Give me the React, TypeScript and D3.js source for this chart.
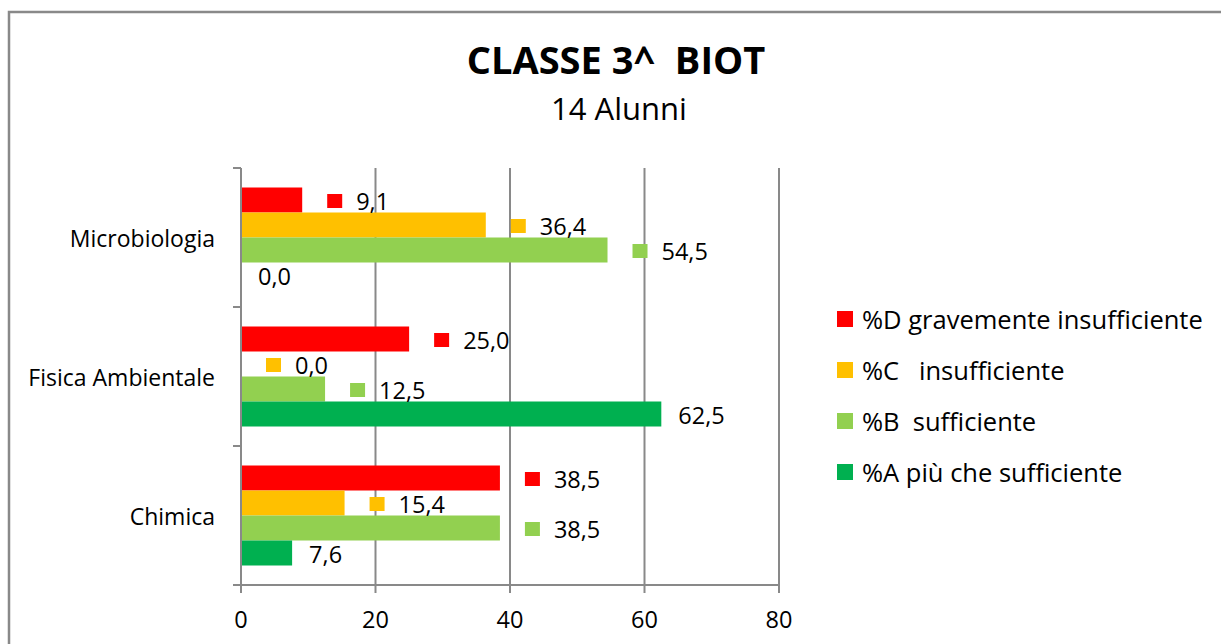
import React from "react";
import * as d3 from "d3";

const categories = ["Microbiologia", "Fisica Ambientale", "Chimica"];
const seriesKeys = ["D", "C", "B", "A"];
const seriesNames = [
  "%D gravemente insufficiente",
  "%C   insufficiente",
  "%B  sufficiente",
  "%A più che sufficiente",
];
const seriesColors = ["#FF0000", "#FFC000", "#92D050", "#00B050"];

// values per category, same order as seriesKeys
const valuesD = [9.1, 25.0, 38.5];
const valuesC = [36.4, 0.0, 15.4];
const valuesB = [54.5, 12.5, 38.5];
const valuesA = [0.0, 62.5, 7.6];
const xTicks = [0, 20, 40, 60, 80];

const W = 1221;
const H = 644;
const font = "'Open Sans', sans-serif";
const gray = "#898989";

const App: React.FC = () => {
  const allValues = [valuesD, valuesC, valuesB, valuesA];

  //scales
  const x = d3.scaleLinear().domain([0, 80]).range([241, 779]);
  const y = d3.scaleBand().domain(categories).range([168, 585]);
  const inner = d3
    .scaleBand()
    .domain(seriesKeys)
    .range([0, y.bandwidth()])
    .paddingOuter(0.78);

  const fmt = (v: number) => v.toFixed(1).replace(".", ",");
  const [y0, y1] = y.range();

  return (
    <svg
      width={W}
      height={H}
      style={{ position: "absolute", left: 0, top: 0, display: "block" }}
      fontFamily={font}
    >
      <rect x={0} y={0} width={W} height={H} fill="#fff" />
      <rect x={9} y={12} width={1400} height={1000} fill="none" stroke={gray} strokeWidth={2.5} />

      <text x={616} y={74} textAnchor="middle" fontSize={38} fontWeight="bold" xmlSpace="preserve">
        CLASSE 3^  BIOT
      </text>
      <text x={619} y={120} textAnchor="middle" fontSize={31}>
        14 Alunni
      </text>

      {/* gridlines */}
      {xTicks.slice(1).map((t) => (
        <line key={t} x1={x(t)} x2={x(t)} y1={y0} y2={y1} stroke={gray} strokeWidth={2} />
      ))}

      {/* bars */}
      {categories.map((c, ci) =>
        seriesKeys.map((k, si) => {
          const v = allValues[si][ci];
          const by = (y(c) as number) + (inner(k) as number);
          return (
            <rect
              key={c + k}
              x={x(0)}
              y={by}
              width={x(v) - x(0)}
              height={inner.bandwidth()}
              fill={seriesColors[si]}
            />
          );
        })
      )}

      {/* axes */}
      <line x1={x(0)} x2={x(0)} y1={y0} y2={y1 + 8} stroke={gray} strokeWidth={2} />
      <line x1={233} x2={x(80)} y1={y1} y2={y1} stroke={gray} strokeWidth={2} />
      {[...categories.map((c) => y(c) as number), y1].map((ty, i) => (
        <line key={i} x1={233} x2={x(0)} y1={ty} y2={ty} stroke={gray} strokeWidth={2} />
      ))}
      {xTicks.map((t) => (
        <g key={t}>
          <line x1={x(t)} x2={x(t)} y1={y1} y2={y1 + 8} stroke={gray} strokeWidth={2} />
          <text x={x(t)} y={628} textAnchor="middle" fontSize={23.5}>
            {t}
          </text>
        </g>
      ))}
      {categories.map((c) => (
        <text
          key={c}
          x={215}
          y={(y(c) as number) + y.bandwidth() / 2}
          textAnchor="end"
          dominantBaseline="central"
          fontSize={23}
        >
          {c}
        </text>
      ))}

      {/* data labels */}
      {categories.map((c, ci) =>
        seriesKeys.map((k, si) => {
          const v = allValues[si][ci];
          const cy = (y(c) as number) + (inner(k) as number) + inner.bandwidth() / 2 + 1;
          const ex = x(v);
          if (k === "A") {
            return (
              <text key={c + k} x={ex + 17} y={cy} dominantBaseline="central" fontSize={23.5}>
                {fmt(v)}
              </text>
            );
          }
          return (
            <g key={c + k}>
              <rect x={ex + 25} y={cy - 7} width={15} height={14} fill={seriesColors[si]} />
              <text x={ex + 54} y={cy} dominantBaseline="central" fontSize={23.5}>
                {fmt(v)}
              </text>
            </g>
          );
        })
      )}

      {/* legend */}
      {seriesNames.map((n, i) => {
        const ly = 319 + i * 51;
        return (
          <g key={n}>
            <rect x={837} y={ly - 8} width={16} height={16} fill={seriesColors[i]} />
            <text x={862} y={ly} dominantBaseline="central" fontSize={25.5} xmlSpace="preserve">
              {n}
            </text>
          </g>
        );
      })}
    </svg>
  );
};

export default App;
